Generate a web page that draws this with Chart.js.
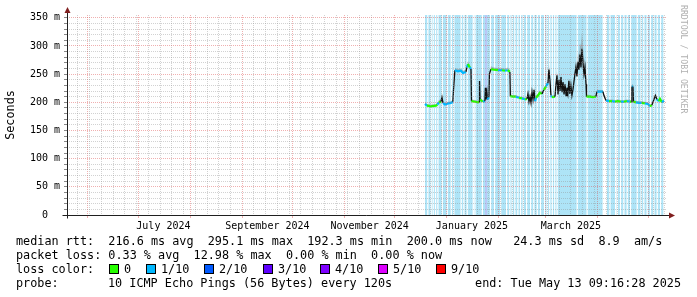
<!DOCTYPE html>
<html lang="en">
<head>
  <meta charset="UTF-8">
  <title>median rtt</title>
  <script src="https://cdn.jsdelivr.net/npm/chart.js"></script>
  <style>
    html, body { margin: 0; padding: 0; background: #fff; }
    body { width: 697px; height: 297px; position: relative; overflow: hidden; font-family: 'DejaVu Sans Mono', monospace; }
    canvas { position: absolute; left: 0; top: 0; }
    .leg { position: absolute; font-size: 11.8px; line-height: 14px; white-space: pre; color: #000; }
    .box { position: absolute; width: 8px; height: 8px; border: 1px solid #000; }
  </style>
</head>
<body>
  <canvas id="rtt" width="697" height="297"></canvas>
  <div id="legend"></div>

  <script>
    // days counted from 2024-06-01
    const rttDays = [201.0, 202.1, 204.5, 207.5, 208.4, 209.3, 210.5, 211.1, 211.7, 212.9, 214.7, 216.5, 217.6, 218.0,
      218.8, 220.6, 222.4, 223.6, 225.4, 226.0, 226.6, 227.2, 227.8, 228.4, 228.7, 230.8, 232.6, 233.2, 233.5, 233.8,
      235.5, 236.7, 237.0, 237.3, 237.9, 238.2, 239.1, 239.4, 240.3, 242.1, 244.5, 246.9, 248.7, 250.4, 251.6, 251.9,
      253.4, 255.2, 257.0, 258.8, 260.6, 261.8, 262.4, 263.0, 263.6, 264.2, 264.8, 265.4, 266.0, 266.6, 267.2, 268.4,
      269.5, 270.7, 271.9, 273.1, 274.3, 274.9, 275.5, 276.1, 276.7, 278.5, 279.1, 279.7, 280.3, 280.9, 281.5, 282.1,
      282.7, 283.3, 283.9, 284.5, 285.1, 285.6, 286.2, 286.8, 287.4, 288.0, 288.6, 289.2, 289.8, 290.4, 291.0, 291.6,
      292.2, 292.8, 293.4, 294.0, 294.6, 295.2, 295.8, 296.4, 297.0, 297.3, 299.4, 301.1, 302.9, 303.5, 305.3, 307.1,
      307.7, 308.9, 310.7, 312.5, 314.3, 316.0, 317.8, 319.6, 321.4, 323.2, 324.1, 324.4, 325.0, 325.3, 326.8, 328.5,
      330.3, 332.1, 333.9, 335.1, 336.3, 337.5, 338.4, 339.3, 340.5, 341.1, 342.3, 343.5];
    const rttMedian = [197, 194, 193, 194, 196, 200, 201, 209, 199, 196, 198, 199, 201, 222,
      257, 255, 256, 252, 254, 262, 268, 264, 262, 259, 202, 201, 200, 201, 238, 205,
      201, 202, 226, 205, 218, 205, 209, 250, 259, 258, 257, 257, 256, 257, 254, 211,
      210, 210, 208, 207, 205, 206, 215, 201, 210, 199, 218, 205, 222, 202, 208, 212,
      217, 215, 222, 228, 234, 258, 238, 212, 209, 210, 232, 248, 214, 240, 220, 245,
      218, 236, 214, 232, 212, 226, 215, 238, 215, 230, 212, 222, 236, 250, 262, 246,
      272, 258, 285, 262, 295, 270, 250, 262, 232, 210, 210, 209, 210, 219, 219, 219,
      212, 203, 202, 202, 201, 202, 201, 201, 202, 201, 201, 228, 228, 201, 200, 199,
      199, 198, 197, 193, 195, 205, 212, 205, 202, 206, 200, 203];
    const rttMax = [200, 197, 196, 197, 199, 204, 205, 213, 203, 199, 201, 202, 205, 226,
      261, 259, 260, 256, 258, 266, 274, 268, 266, 262, 205, 204, 203, 204, 242, 208,
      204, 205, 230, 208, 222, 208, 212, 254, 264, 262, 261, 261, 260, 262, 258, 214,
      213, 213, 211, 210, 208, 210, 222, 205, 214, 204, 224, 209, 228, 206, 212, 216,
      221, 219, 226, 232, 240, 268, 244, 216, 212, 213, 238, 256, 220, 248, 226, 252,
      224, 242, 220, 238, 218, 230, 220, 244, 220, 236, 216, 228, 244, 260, 275, 258,
      290, 280, 305, 300, 325, 300, 272, 278, 245, 214, 213, 212, 213, 222, 222, 222,
      215, 206, 205, 205, 204, 205, 204, 204, 205, 204, 204, 232, 232, 204, 203, 202,
      202, 201, 200, 196, 198, 208, 216, 208, 205, 209, 203, 206];
    // lost pings out of 10
    const rttLoss = [1, 0, 0, 0, 1, 0, 0, 0, 1, 1, 1, 1, 1, 1,
      1, 1, 1, 1, 1, 1, 0, 0, 1, 1, 0, 0, 0, 0, 0, 0,
      1, 1, 1, 1, 1, 1, 0, 1, 0, 0, 1, 0, 1, 0, 1, 0,
      0, 1, 0, 1, 0, 1, 1, 1, 1, 1, 1, 1, 1, 1, 0, 0,
      0, 1, 0, 1, 1, 1, 1, 1, 0, 0, 1, 1, 1, 1, 1, 1,
      1, 1, 1, 1, 1, 0, 1, 1, 1, 1, 0, 1, 1, 1, 1, 1,
      1, 1, 1, 1, 1, 1, 1, 1, 1, 0, 0, 0, 0, 1, 1, 0,
      0, 1, 0, 1, 0, 0, 1, 0, 1, 0, 0, 1, 1, 0, 1, 1,
      0, 1, 1, 0, 1, 1, 1, 1, 0, 0, 1, 1];

    // light blue background stripes: start/end day and the thin white gaps (start day of each gap)
    const stripeStart = 201.0;
    const stripeEnd = 343.8;
    const stripeGapWidth = 0.75;
    const stripeGaps = [202.3, 204.3, 205.5, 206.9, 208.3, 210.9, 213.9, 216.3, 217.8, 222.2, 223.8, 225.8, 229.4,
      230.4, 234.8, 239.7, 242.1, 245.7, 249.3, 251.2, 252.6, 254.2, 256.0, 257.6, 259.2, 261.2, 263.6, 265.5,
      267.6, 269.5, 271.9, 273.5, 275.0, 276.5, 278.0, 279.4, 291.4, 297.3, 306.9, 307.5, 308.1, 308.7, 310.9,
      314.3, 315.3, 317.2, 319.2, 321.2, 323.2, 327.2, 329.5, 331.1, 333.1, 335.1, 337.1, 339.1, 341.1, 343.1];
    const stripeShade = [236.6, 238.2];

    const yTickValues = [];
    for (let v = 0; v <= 350; v += 10) yTickValues.push(v);

    const xLabelTexts = ['July 2024', 'September 2024', 'November 2024', 'January 2025', 'March 2025'];
    const xLabelMonths = [6, 8, 10, 12, 14]; // month index from Jan 2024

    const lossLabels = ['0', '1/10', '2/10', '3/10', '4/10', '5/10', '9/10'];
    const lossColors = ['#26ff00', '#00b8ff', '#0059ff', '#5e00ff', '#7e00ff', '#dd00ff', '#ff0000'];

    const mono = "'DejaVu Sans Mono', monospace";
    const minorGrid = 'rgba(143,143,143,0.4)';
    const majorGrid = 'rgba(222,79,79,0.45)';

    const monthStart = (y, m) => (Date.UTC(y, m, 1) - Date.UTC(2024, 5, 1)) / 86400000;

    // x ticks: weekly minor lines, monthly major lines, labels mid-month
    const xTicks = new Map();
    for (let d = -6; d <= 345; d += 7) xTicks.set(d, { grid: 'minor', label: '' });
    for (let i = 0; i < 12; i++) xTicks.set(monthStart(2024, 5 + i), { grid: 'major', label: '' });
    xLabelMonths.forEach((m, i) => {
      const d = monthStart(2024, m) + 15;
      const t = xTicks.get(d) || { grid: null, label: '' };
      t.label = xLabelTexts[i];
      xTicks.set(d, t);
    });

    // stepped 'before': each point's value holds until the next point.
    // a gap never runs past the start of the next one, so x stays increasing
    const stripeData = [{ x: stripeStart, y: 355 }];
    stripeGaps.forEach((g, i) => {
      const next = i + 1 < stripeGaps.length ? stripeGaps[i + 1] : stripeEnd;
      const end = Math.min(g + stripeGapWidth, next);
      stripeData.push({ x: g, y: 0 });
      if (end < next) stripeData.push({ x: end, y: 355 });
    });
    stripeData.push({ x: stripeEnd, y: 0 });
    const shadeData = [{ x: stripeShade[0], y: 355 }, { x: stripeShade[1], y: 0 }];

    const jump = c => Math.abs(c.p1.parsed.y - c.p0.parsed.y) > 6;

    const frame = {
      id: 'frame',
      afterDraw(chart) {
        const { ctx, chartArea: a } = chart;
        const y0 = Math.round(a.bottom) + 0.5;
        const x0 = Math.round(a.left) + 0.5;
        ctx.save();
        ctx.strokeStyle = '#1f1f1f';
        ctx.lineWidth = 1;
        ctx.beginPath();
        ctx.moveTo(x0 - 5, y0); ctx.lineTo(a.right + 3, y0);
        ctx.moveTo(x0, y0 + 3); ctx.lineTo(x0, a.top - 3);
        ctx.stroke();
        ctx.fillStyle = '#801f1f';
        ctx.beginPath();
        ctx.moveTo(x0 - 3, a.top - 2); ctx.lineTo(x0 + 3, a.top - 2); ctx.lineTo(x0, a.top - 8);
        ctx.closePath(); ctx.fill();
        ctx.beginPath();
        ctx.moveTo(a.right + 2, y0 - 3); ctx.lineTo(a.right + 2, y0 + 3); ctx.lineTo(a.right + 8, y0);
        ctx.closePath(); ctx.fill();
        ctx.translate(683, 5);
        ctx.rotate(Math.PI / 2);
        ctx.font = "8.2px 'DejaVu Sans Mono'";
        ctx.fillStyle = '#b0b0b0';
        ctx.textBaseline = 'middle';
        ctx.fillText('RRDTOOL / TOBI OETIKER', 0, 0);
        ctx.restore();
      }
    };

    new Chart(document.getElementById('rtt'), {
      type: 'line',
      data: {
        datasets: [
          {
            data: rttDays.map((d, i) => ({ x: d, y: rttMedian[i] })),
            borderColor: '#111',
            borderWidth: 2,
            pointRadius: 0,
            fill: false,
            segment: {
              borderColor: c => jump(c) ? '#111' : lossColors[rttLoss[c.p0DataIndex]],
              borderWidth: c => jump(c) ? 1.3 : 2.2
            }
          },
          {
            data: rttDays.map((d, i) => ({ x: d, y: rttMax[i] })),
            borderColor: 'transparent',
            borderWidth: 0,
            pointRadius: 0,
            fill: '-1',
            backgroundColor: 'rgba(120,120,120,0.45)'
          },
          {
            data: shadeData,
            stepped: 'before',
            borderColor: 'transparent',
            borderWidth: 0,
            pointRadius: 0,
            fill: 'origin',
            backgroundColor: '#b9c8f6'
          },
          {
            data: stripeData,
            stepped: 'before',
            borderColor: 'transparent',
            borderWidth: 0,
            pointRadius: 0,
            fill: 'origin',
            backgroundColor: '#aee4f7'
          }
        ]
      },
      options: {
        responsive: false,
        animation: false,
        events: [],
        layout: { padding: { left: 0, top: 15, right: 30, bottom: 62 } },
        plugins: { legend: { display: false }, tooltip: { enabled: false } },
        scales: {
          x: {
            type: 'linear',
            min: -12.5,
            max: 345.3,
            afterBuildTicks: s => { s.ticks = [...xTicks.keys()].sort((a, b) => a - b).map(v => ({ value: v })); },
            afterFit: s => { s.height = 20; },
            ticks: {
              autoSkip: false,
              maxRotation: 0,
              padding: 2,
              color: '#000',
              font: { family: mono, size: 10 },
              callback: v => (xTicks.get(v) || {}).label || ''
            },
            grid: {
              z: 1,
              lineWidth: 1,
              tickLength: 3,
              color: c => {
                const t = c.tick && xTicks.get(c.tick.value);
                if (!t || !t.grid) return 'transparent';
                return t.grid === 'major' ? majorGrid : minorGrid;
              },
              tickColor: c => {
                const t = c.tick && xTicks.get(c.tick.value);
                return t && t.grid === 'major' ? majorGrid : 'transparent';
              }
            },
            border: { display: false, dash: [1, 1] }
          },
          y: {
            type: 'linear',
            min: 0,
            max: 355,
            afterBuildTicks: s => { s.ticks = yTickValues.map(v => ({ value: v })); },
            afterFit: s => { s.width = 67; },
            ticks: {
              autoSkip: false,
              padding: 4,
              color: '#000',
              font: { family: mono, size: 10 },
              callback: v => v === 0 ? '0  ' : (v % 50 === 0 ? v + ' m' : '')
            },
            grid: {
              z: 1,
              lineWidth: 1,
              tickLength: 3,
              color: c => c.tick && c.tick.value % 50 === 0 ? majorGrid : minorGrid,
              tickColor: '#888'
            },
            border: { display: false, dash: [1, 1] },
            title: {
              display: true,
              text: 'Seconds',
              color: '#000',
              font: { family: mono, size: 11.8 },
              padding: { top: 4, bottom: 0 }
            }
          }
        }
      },
      plugins: [frame]
    });

    // text legend under the graph
    const legend = document.getElementById('legend');
    const addText = (text, left, top, right) => {
      const el = document.createElement('div');
      el.className = 'leg';
      el.textContent = text;
      el.style.top = top + 'px';
      if (right !== undefined) el.style.right = right + 'px'; else el.style.left = left + 'px';
      legend.appendChild(el);
    };
    addText('median rtt:  216.6 ms avg  295.1 ms max  192.3 ms min  200.0 ms now   24.3 ms sd  8.9  am/s', 16, 234);
    addText('packet loss: 0.33 % avg  12.98 % max  0.00 % min  0.00 % now', 16, 248);
    addText('loss color:', 16, 262);
    const boxX = [109, 146, 204, 263, 320, 378, 436];
    lossLabels.forEach((lab, i) => {
      const b = document.createElement('div');
      b.className = 'box';
      b.style.left = boxX[i] + 'px';
      b.style.top = '264px';
      b.style.background = lossColors[i];
      legend.appendChild(b);
      addText(lab, boxX[i] + 15, 262);
    });
    addText('probe:', 16, 276);
    addText('10 ICMP Echo Pings (56 Bytes) every 120s', 108, 276);
    addText('end: Tue May 13 09:16:28 2025', 0, 276, 16);
  </script>
</body>
</html>
